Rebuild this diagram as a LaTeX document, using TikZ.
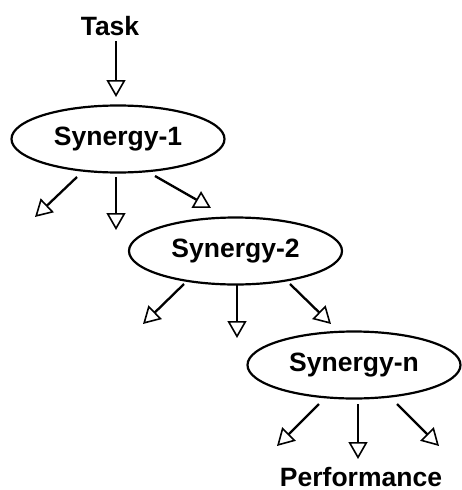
\documentclass[tikz,border=0pt]{standalone}
\usepackage{fontspec}
\setmainfont{Liberation Sans}
\usetikzlibrary{shapes.geometric,arrows.meta}
\begin{document}
\begin{tikzpicture}[x=1pt,y=-1pt,
  lbl/.style={font=\fontsize{26.5}{30}\selectfont\bfseries, inner sep=0pt},
  syn/.style={ellipse, draw, line width=2.2pt, minimum width=213pt, minimum height=67pt, inner sep=0pt, font=\fontsize{26.5}{30}\selectfont\bfseries},
  flow/.style={line width=2.3pt, -{Triangle[open, length=17pt, width=19pt, line width=1.6pt]}}]
\useasboundingbox (0,0) rectangle (461,490);
\node[lbl] (task) at (110,26) {Task};
\node[syn] (s1) at (118,139) {Synergy-1};
\node[syn] (s2) at (235.5,251) {Synergy-2};
\node[syn] (s3) at (354,365) {Synergy-n};
\node[lbl] (perf) at (361,477) {Performance};
% coordinates
\coordinate (t0) at (116,41);
\coordinate (t1) at (116,97);
\coordinate (a1) at (77,177);   \coordinate (a1e) at (35,217);
\coordinate (b1) at (116,177);  \coordinate (b1e) at (116,230);
\coordinate (c1) at (155,176);  \coordinate (c1e) at (211,208);
\coordinate (a2) at (184,284);  \coordinate (a2e) at (143,324);
\coordinate (b2) at (237,284);  \coordinate (b2e) at (237,338);
\coordinate (c2) at (290,284);  \coordinate (c2e) at (331,324);
\coordinate (a3) at (319,404);  \coordinate (a3e) at (277,446);
\coordinate (b3) at (358,404);  \coordinate (b3e) at (358,459);
\coordinate (c3) at (397,404);  \coordinate (c3e) at (439,446);
\draw[flow] (t0) -- (t1);
\draw[flow] (a1) -- (a1e);
\draw[flow] (b1) -- (b1e);
\draw[flow] (c1) -- (c1e);
\draw[flow] (a2) -- (a2e);
\draw[flow] (b2) -- (b2e);
\draw[flow] (c2) -- (c2e);
\draw[flow] (a3) -- (a3e);
\draw[flow] (b3) -- (b3e);
\draw[flow] (c3) -- (c3e);
\end{tikzpicture}
\end{document}
